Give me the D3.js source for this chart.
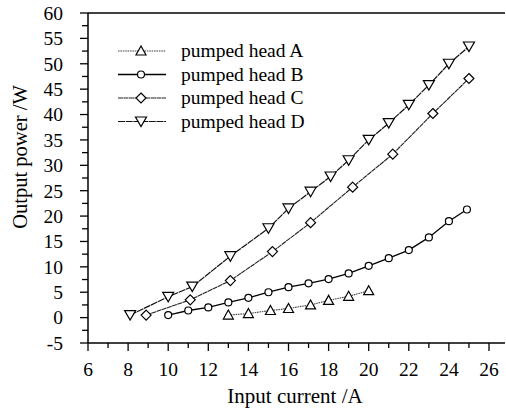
<!DOCTYPE html>
<html><head><meta charset="utf-8">
<script src="https://cdn.jsdelivr.net/npm/d3@7"></script>
<style>body{margin:0;background:#fff}svg{display:block}text{font-family:"Liberation Serif","Times New Roman",serif;fill:#000}</style>
</head><body><svg id="c" width="506" height="410"></svg>
<script>
const xA=[13,14,15.1,16,17.1,18,19,20];
const yA=[0.5,0.8,1.4,1.8,2.5,3.4,4.2,5.3];
const xB=[10,11,12,13,14,15,16,17,18,19,20,21,22,23,24,24.9];
const yB=[0.5,1.4,2,3,3.9,5,6,6.75,7.6,8.7,10.2,11.7,13.3,15.8,19,21.3];
const xC=[8.9,11.1,13.1,15.2,17.1,19.2,21.2,23.2,25];
const yC=[0.5,3.5,7.3,13,18.7,25.7,32.2,40.2,47.1];
const xD=[8.1,10,11.2,13.1,15,16,17.1,18.1,19,20,21,22,23,24,25];
const yD=[0.5,4.1,6.1,12.1,17.6,21.5,24.8,27.8,31,35,38.3,41.9,45.8,50,53.4];
const names=["pumped head A","pumped head B","pumped head C","pumped head D"];
const xTicks=[6,8,10,12,14,16,18,20,22,24,26];
const yTicks=[-5,0,5,10,15,20,25,30,35,40,45,50,55,60];

const svg=d3.select("#c");
const x=d3.scaleLinear().domain([6,26]).range([88,489]);
const y=d3.scaleLinear().domain([-5,60]).range([343,13]);
const X0=88, XR=505;

const series=[
 {x:xA,y:yA,shape:"triUp",dash:"1.6,0.8",color:"#444",w:1.1},
 {x:xB,y:yB,shape:"circle",dash:null,color:"#000",w:1.3},
 {x:xC,y:yC,shape:"diamond",dash:"5,0.5",color:"#222",w:1.1},
 {x:xD,y:yD,shape:"triDown",dash:"7,0.7",color:"#111",w:1.2}
];

// frame
svg.append("line").attr("x1",X0).attr("x2",XR).attr("y1",y(60)).attr("y2",y(60)).attr("stroke","#000").attr("stroke-width",1.5);
svg.append("line").attr("x1",X0).attr("x2",XR).attr("y1",y(-5)).attr("y2",y(-5)).attr("stroke","#000").attr("stroke-width",1.5);
svg.append("line").attr("x1",X0).attr("x2",X0).attr("y1",y(-5)).attr("y2",y(60)).attr("stroke","#000").attr("stroke-width",1.5);

// x axis ticks
const xMinor=d3.range(7,27,2);
xTicks.forEach(t=>{svg.append("line").attr("x1",x(t)).attr("x2",x(t)).attr("y1",y(-5)).attr("y2",y(-5)+8).attr("stroke","#000").attr("stroke-width",1.3);
 svg.append("text").attr("x",x(t)).attr("y",y(-5)+33).attr("text-anchor","middle").style("font-size","19.5px").text(t);});
xMinor.forEach(t=>svg.append("line").attr("x1",x(t)).attr("x2",x(t)).attr("y1",y(-5)).attr("y2",y(-5)+5).attr("stroke","#000").attr("stroke-width",1.3));
// y axis ticks
const yMinor=d3.range(-2.5,60,5);
yTicks.forEach(t=>{svg.append("line").attr("x1",X0-8).attr("x2",X0).attr("y1",y(t)).attr("y2",y(t)).attr("stroke","#000").attr("stroke-width",1.3);
 svg.append("text").attr("x",X0-25).attr("y",y(t)).attr("dy","0.35em").attr("text-anchor","end").style("font-size","19.5px").text(t);});
yMinor.forEach(t=>svg.append("line").attr("x1",X0-6).attr("x2",X0).attr("y1",y(t)).attr("y2",y(t)).attr("stroke","#000").attr("stroke-width",1.3));

svg.append("text").attr("x",295).attr("y",403).attr("text-anchor","middle").style("font-size","21px").text("Input current /A");
svg.append("text").attr("transform","translate(27,157) rotate(-90)").attr("text-anchor","middle").style("font-size","20.5px").text("Output power /W");

function marker(g,shape,cx,cy){
 if(shape==="circle") g.append("circle").attr("cx",cx).attr("cy",cy).attr("r",3.5).attr("fill","#fff").attr("stroke","#000").attr("stroke-width",1.2);
 else {
  let p;
  if(shape==="triUp") p=[[cx,cy-5],[cx+5,cy+4],[cx-5,cy+4]];
  else if(shape==="triDown") p=[[cx-5.5,cy-4.5],[cx+5.5,cy-4.5],[cx,cy+5]];
  else p=[[cx,cy-5],[cx+5,cy],[cx,cy+5],[cx-5,cy]];
  g.append("polygon").attr("points",p.map(d=>d.join(",")).join(" ")).attr("fill","#fff").attr("stroke","#000").attr("stroke-width",1.2);
 }
}
const line=d3.line().x(d=>x(d[0])).y(d=>y(d[1]));
series.forEach(s=>{
 const pts=s.x.map((v,i)=>[v,s.y[i]]);
 const g=svg.append("g");
 g.append("path").attr("d",line(pts)).attr("fill","none").attr("stroke",s.color).attr("stroke-width",s.w).attr("stroke-dasharray",s.dash);
 pts.forEach(d=>marker(g,s.shape,x(d[0]),y(d[1])));
});

// legend
series.forEach((s,i)=>{
 const ly=51+i*23.5;
 const g=svg.append("g");
 g.append("line").attr("x1",118).attr("x2",166).attr("y1",ly).attr("y2",ly).attr("stroke",s.color).attr("stroke-width",s.w).attr("stroke-dasharray",s.dash);
 marker(g,s.shape,141,ly);
 svg.append("text").attr("x",181).attr("y",ly).attr("dy","0.33em").style("font-size","19.5px").text(names[i]);
});
</script></body></html>
